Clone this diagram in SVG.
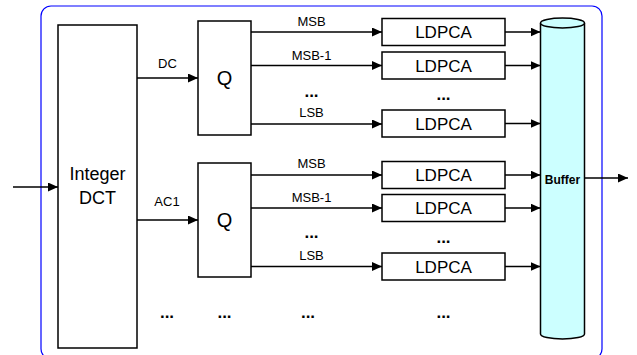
<svg xmlns="http://www.w3.org/2000/svg" width="637" height="355" viewBox="0 0 637 355">
<defs>
<marker id="ah" markerUnits="userSpaceOnUse" markerWidth="11" markerHeight="9" refX="10" refY="4.5" orient="auto">
<path d="M0,0 L10,4.5 L0,9 z" fill="#000"/>
</marker>
<style>
.box{fill:#fff;stroke:#000;stroke-width:1.5}
.t{font-family:"Liberation Sans",Arial,sans-serif;fill:#000;text-anchor:middle}
.lbl{font-size:13px}
.big{font-size:18px}
.ld{font-size:17px}
.dots{font-size:17px;font-weight:bold}
.c{stroke:#000;stroke-width:1.5;fill:none;marker-end:url(#ah)}
</style>
</defs>
<rect x="41" y="6" width="561" height="353" rx="10" ry="10" fill="#fff" stroke="#0000FF" stroke-width="1.2"/>

<g id="dct">
<rect class="box" x="58" y="25" width="79" height="323"/>
<text class="t big" x="97.5" y="180">Integer</text>
<text class="t big" x="97.5" y="204">DCT</text>
</g>

<g id="q1">
<rect class="box" x="198" y="21" width="53" height="114"/>
<text class="t" x="224.5" y="85" font-size="20">Q</text>
</g>
<g id="q2">
<rect class="box" x="198" y="163" width="53" height="114"/>
<text class="t" x="224.5" y="227" font-size="20">Q</text>
</g>

<g id="ldpca1"><rect class="box" x="382" y="18.5" width="123" height="27"/><text class="t ld" x="443.5" y="38">LDPCA</text></g>
<g id="ldpca2"><rect class="box" x="382" y="52" width="123" height="27"/><text class="t ld" x="443.5" y="71.5">LDPCA</text></g>
<g id="ldpca3"><rect class="box" x="382" y="110" width="123" height="27"/><text class="t ld" x="443.5" y="129.5">LDPCA</text></g>
<g id="ldpca4"><rect class="box" x="382" y="161.5" width="123" height="27"/><text class="t ld" x="443.5" y="181">LDPCA</text></g>
<g id="ldpca5"><rect class="box" x="382" y="194.5" width="123" height="27"/><text class="t ld" x="443.5" y="214">LDPCA</text></g>
<g id="ldpca6"><rect class="box" x="382" y="253" width="123" height="27"/><text class="t ld" x="443.5" y="272.5">LDPCA</text></g>

<g id="buffer">
<path d="M540.5,23 L540.5,334 A22,5 0 0 0 584.5,334 L584.5,23" fill="#CCFFFF" stroke="#000" stroke-width="1.5"/>
<ellipse cx="562.5" cy="23" rx="22" ry="5" fill="#CCFFFF" stroke="#000" stroke-width="1.5"/>
<text class="t" x="562.5" y="184" font-size="12" font-weight="bold">Buffer</text>
</g>

<g id="connectors">
<line class="c" x1="13" y1="187" x2="58" y2="187"/>
<line class="c" x1="137" y1="78" x2="198" y2="78"/>
<line class="c" x1="137" y1="220" x2="198" y2="220"/>
<line class="c" x1="251" y1="32" x2="382" y2="32"/>
<line class="c" x1="251" y1="65.5" x2="382" y2="65.5"/>
<line class="c" x1="251" y1="124" x2="382" y2="124"/>
<line class="c" x1="251" y1="175" x2="382" y2="175"/>
<line class="c" x1="251" y1="208" x2="382" y2="208"/>
<line class="c" x1="251" y1="266.5" x2="382" y2="266.5"/>
<line class="c" x1="505" y1="32" x2="540.5" y2="32"/>
<line class="c" x1="505" y1="65.5" x2="540.5" y2="65.5"/>
<line class="c" x1="505" y1="123.5" x2="540.5" y2="123.5"/>
<line class="c" x1="505" y1="175" x2="540.5" y2="175"/>
<line class="c" x1="505" y1="208" x2="540.5" y2="208"/>
<line class="c" x1="505" y1="266.5" x2="540.5" y2="266.5"/>
<line class="c" x1="584.5" y1="178" x2="628" y2="178"/>
</g>

<g id="labels">
<text class="t lbl" x="167.5" y="68">DC</text>
<text class="t lbl" x="167" y="205.5">AC1</text>
<text class="t lbl" x="311.5" y="26">MSB</text>
<text class="t lbl" x="311.5" y="60">MSB-1</text>
<text class="t dots" x="311.5" y="97">...</text>
<text class="t lbl" x="311.5" y="117">LSB</text>
<text class="t lbl" x="311.5" y="168">MSB</text>
<text class="t lbl" x="311.5" y="202">MSB-1</text>
<text class="t dots" x="311.5" y="238">...</text>
<text class="t lbl" x="311.5" y="260">LSB</text>
<text class="t dots" x="443.5" y="100">...</text>
<text class="t dots" x="443.5" y="243">...</text>
<text class="t dots" x="443.5" y="318">...</text>
<text class="t dots" x="167" y="318">...</text>
<text class="t dots" x="224.5" y="318">...</text>
<text class="t dots" x="308" y="318">...</text>
</g>
</svg>
